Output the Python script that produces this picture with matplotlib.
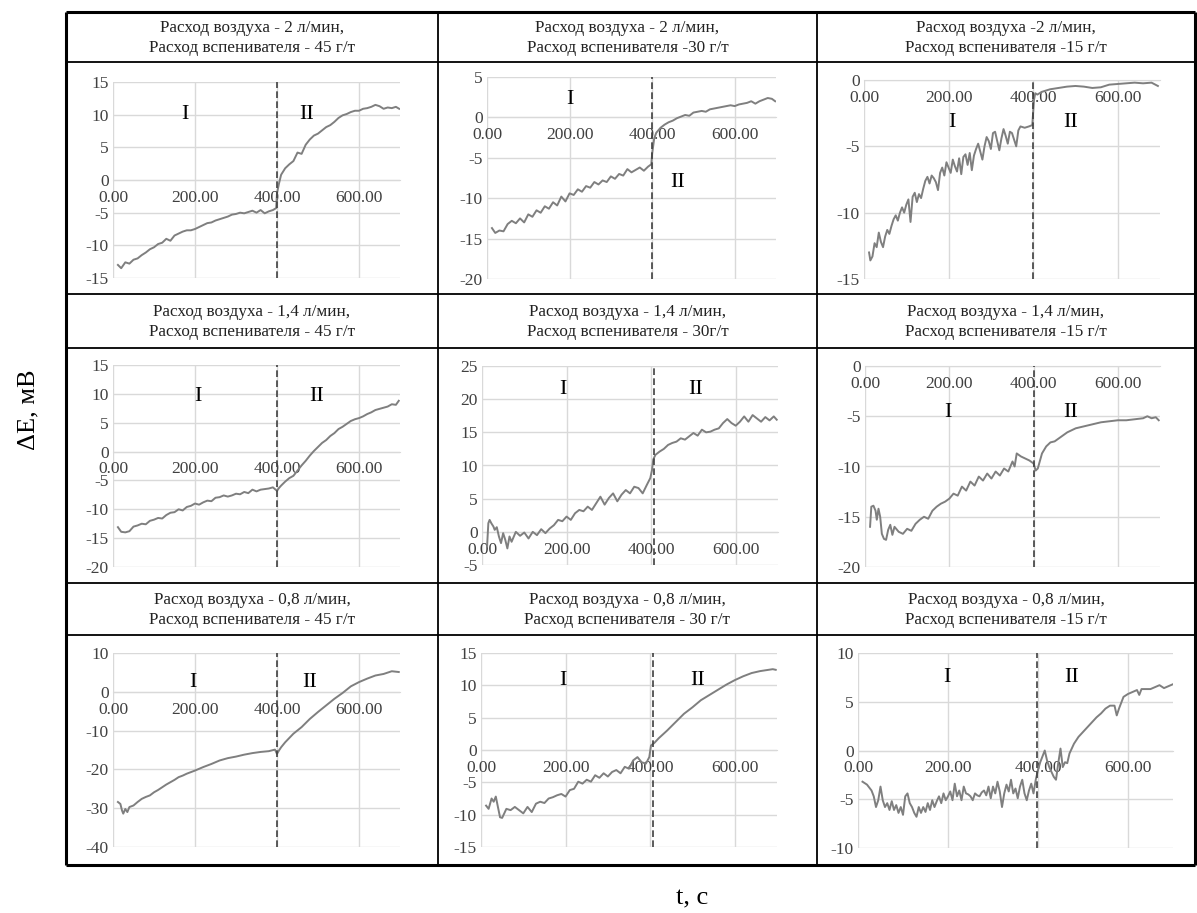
import matplotlib
matplotlib.use('Agg')
import matplotlib.pyplot as plt

plt.rcParams['font.family'] = ['Liberation Serif', 'DejaVu Serif']
plt.rcParams['axes.unicode_minus'] = False

# ---- data (t in s, dE in mV) ----
titles = [
    'Расход воздуха - 2 л/мин,\nРасход вспенивателя - 45 г/т',
    'Расход воздуха - 2 л/мин,\nРасход вспенивателя -30 г/т',
    'Расход воздуха -2 л/мин,\nРасход вспенивателя -15 г/т',
    'Расход воздуха - 1,4 л/мин,\nРасход вспенивателя - 45 г/т',
    'Расход воздуха - 1,4 л/мин,\nРасход вспенивателя - 30г/т',
    'Расход воздуха - 1,4 л/мин,\nРасход вспенивателя -15 г/т',
    'Расход воздуха - 0,8 л/мин,\nРасход вспенивателя - 45 г/т',
    'Расход воздуха - 0,8 л/мин,\nРасход вспенивателя - 30 г/т',
    'Расход воздуха - 0,8 л/мин,\nРасход вспенивателя -15 г/т',
]

t1 = [12, 20, 30, 40, 50, 60, 70, 80, 90, 100, 110, 120, 130, 140, 150, 160, 170, 180, 190, 200,
      210, 220, 230, 240, 250, 260, 270, 280, 290, 300, 310, 320, 330, 340, 350, 360, 370, 380, 390,
      398, 400, 405, 410, 420, 430, 440, 450, 460, 470, 480, 490, 500, 510, 520, 530, 540, 550, 560,
      570, 580, 590, 600, 610, 620, 630, 640, 650, 660, 670, 680, 690, 698]
v1 = [-13.0, -13.5, -12.6, -12.8, -12.2, -12.0, -11.5, -11.1, -10.6, -10.3, -9.8, -9.6, -9.0, -9.3,
      -8.5, -8.2, -7.9, -7.7, -7.7, -7.5, -7.2, -6.9, -6.6, -6.5, -6.2, -6.0, -5.8, -5.6, -5.3, -5.2,
      -5.0, -5.1, -4.9, -4.7, -5.0, -4.6, -5.1, -4.8, -4.6, -4.3, -2.0, -0.5, 0.8, 1.8, 2.4, 2.9, 4.2,
      4.0, 5.4, 6.2, 6.8, 7.1, 7.6, 8.1, 8.4, 8.9, 9.5, 9.9, 10.1, 10.4, 10.6, 10.6, 10.9, 11.0, 11.2,
      11.5, 11.3, 10.9, 11.1, 11.0, 11.2, 10.9]

t2 = [12, 20, 30, 40, 50, 60, 70, 80, 90, 100, 110, 120, 130, 140, 150, 160, 170, 180, 190, 200,
      210, 220, 230, 240, 250, 260, 270, 280, 290, 300, 310, 320, 330, 340, 350, 360, 370, 380, 390,
      398, 400, 405, 410, 420, 430, 440, 450, 460, 470, 480, 490, 500, 510, 520, 530, 540, 550, 560,
      570, 580, 590, 600, 610, 620, 630, 640, 650, 660, 670, 680, 690, 698]
v2 = [-13.7, -14.3, -14.0, -14.1, -13.2, -12.8, -13.1, -12.5, -13.0, -12.0, -12.3, -11.5, -11.8,
      -11.0, -11.3, -10.5, -10.9, -9.8, -10.4, -9.4, -9.6, -8.9, -9.2, -8.5, -8.7, -8.0, -8.3, -7.8,
      -8.0, -7.3, -7.6, -7.0, -7.2, -6.4, -6.8, -6.5, -6.2, -6.6, -6.1, -5.8, -4.5, -2.6, -1.9, -1.3,
      -0.9, -0.6, -0.4, -0.1, 0.1, 0.3, 0.2, 0.6, 0.7, 0.8, 0.7, 1.0, 1.1, 1.2, 1.3, 1.4, 1.5, 1.4,
      1.6, 1.7, 1.8, 2.0, 1.7, 2.0, 2.2, 2.4, 2.3, 2.0]

t3 = [12, 15, 20, 25, 30, 35, 40, 45, 50, 55, 60, 65, 70, 75, 80, 85, 90, 95, 100, 105, 110, 115,
      120, 125, 130, 135, 140, 145, 150, 155, 160, 165, 170, 175, 180, 185, 190, 195, 200, 205, 210,
      215, 220, 225, 230, 235, 240, 245, 250, 255, 260, 265, 270, 275, 280, 285, 290, 295, 300, 305,
      310, 315, 320, 325, 330, 335, 340, 345, 350, 355, 360, 365, 370, 380, 390, 398,
      402, 405, 410, 420, 430, 440, 460, 480, 500, 520, 540, 560, 580, 600, 620, 640, 660, 680, 695]
v3 = [-13.0, -13.6, -13.3, -12.3, -12.6, -11.5, -12.2, -12.6, -11.8, -11.3, -11.6, -11.0, -10.5,
      -10.2, -10.6, -10.0, -9.6, -10.0, -9.4, -9.0, -10.7, -8.8, -8.5, -9.2, -8.6, -8.9, -8.2, -7.6,
      -7.3, -7.8, -7.2, -7.4, -7.7, -8.3, -7.0, -6.6, -7.2, -6.2, -6.6, -7.0, -6.0, -6.5, -6.9, -5.9,
      -7.1, -5.8, -5.6, -6.4, -5.5, -6.8, -5.7, -5.2, -4.8, -5.4, -6.0, -5.0, -4.3, -4.6, -5.2, -4.0,
      -3.9, -4.6, -5.3, -4.4, -3.7, -4.2, -4.8, -3.9, -4.0, -4.5, -5.0, -3.8, -3.5, -3.6, -3.5, -3.4,
      -1.5, -1.0, -1.1, -0.9, -0.8, -0.7, -0.6, -0.5, -0.45, -0.5, -0.6, -0.55, -0.35, -0.3, -0.25,
      -0.2, -0.25, -0.2, -0.45]

t4 = [12, 20, 30, 40, 50, 60, 70, 80, 90, 100, 110, 120, 130, 140, 150, 160, 170, 180, 190, 200,
      210, 220, 230, 240, 250, 260, 270, 280, 290, 300, 310, 320, 330, 340, 350, 360, 370, 380, 390,
      400, 405, 410, 420, 430, 440, 450, 460, 470, 480, 490, 500, 510, 520, 530, 540, 550, 560, 570,
      580, 590, 600, 610, 620, 630, 640, 650, 660, 670, 680, 690, 697]
v4 = [-13.1, -13.9, -14.0, -13.8, -13.0, -12.8, -12.5, -12.6, -12.0, -11.8, -11.5, -11.6, -11.0,
      -10.6, -10.5, -10.0, -10.2, -9.6, -9.4, -9.0, -9.2, -8.8, -8.5, -8.6, -8.0, -7.9, -7.6, -7.8,
      -7.6, -7.3, -7.4, -7.0, -7.2, -6.6, -6.9, -6.6, -6.5, -6.4, -6.2, -6.8, -6.3, -5.9, -5.2, -4.6,
      -4.2, -3.3, -2.4, -1.6, -0.7, 0.1, 0.8, 1.5, 2.0, 2.7, 3.2, 3.9, 4.3, 4.8, 5.3, 5.6, 5.8, 6.1,
      6.5, 6.8, 7.2, 7.4, 7.6, 7.8, 8.2, 8.1, 8.8]

t5 = [12, 15, 18, 22, 27, 30, 35, 40, 45, 50, 55, 60, 65, 70, 80, 90, 100, 110, 120, 130, 140, 150,
      160, 170, 180, 190, 200, 210, 220, 230, 240, 250, 260, 270, 280, 290, 300, 310, 320, 330, 340,
      350, 360, 370, 380, 390, 398, 402, 405, 410, 420, 430, 440, 450, 460, 470, 480, 490, 500, 510,
      520, 530, 540, 550, 560, 570, 580, 590, 600, 610, 620, 630, 640, 650, 660, 670, 680, 690, 697]
v5 = [-2.2, 1.3, 1.8, 1.3, 0.8, 0.3, 0.7, -0.7, -1.7, -0.2, -1.2, -2.5, -0.7, -1.5, 0.0, -0.6, -0.1,
      -1.0, 0.0, -0.5, 0.4, -0.2, 0.5, 1.0, 1.8, 1.6, 2.3, 1.8, 2.8, 3.3, 3.1, 3.8, 3.3, 4.3, 5.3, 4.1,
      5.1, 5.8, 4.6, 5.6, 6.3, 5.8, 6.8, 6.6, 5.8, 7.1, 8.1, 9.3, 10.9, 11.6, 12.1, 12.5, 13.1, 13.4,
      13.6, 14.1, 13.9, 14.4, 14.9, 14.5, 15.4, 15.0, 15.1, 15.4, 15.6, 16.4, 17.0, 16.4, 16.0, 16.6,
      17.4, 16.6, 17.6, 17.1, 16.6, 17.3, 16.8, 17.4, 16.9]

t6 = [12, 15, 20, 25, 28, 32, 36, 40, 45, 50, 55, 60, 65, 70, 80, 90, 100, 110, 120, 130, 140, 150,
      160, 170, 180, 190, 200, 210, 220, 230, 240, 250, 260, 270, 280, 290, 300, 310, 320, 330, 340,
      350, 355, 360, 370, 380, 390, 400, 405, 410, 420, 430, 440, 450, 460, 470, 480, 490, 500, 520,
      540, 560, 580, 600, 620, 640, 660, 670, 680, 690, 697]
v6 = [-16.0, -14.0, -13.9, -14.4, -15.3, -14.2, -15.0, -16.7, -17.2, -17.3, -16.3, -15.8, -16.8,
      -16.0, -16.5, -16.7, -16.2, -16.4, -15.7, -15.3, -15.0, -15.2, -14.4, -14.0, -13.7, -13.5,
      -13.2, -12.7, -12.9, -12.0, -12.4, -11.5, -11.9, -11.0, -11.4, -10.7, -11.2, -10.5, -10.9,
      -10.2, -10.5, -9.5, -10.0, -8.7, -9.0, -9.2, -9.4, -9.7, -10.4, -10.2, -8.7, -8.0, -7.6, -7.5,
      -7.2, -6.9, -6.6, -6.4, -6.2, -6.0, -5.8, -5.6, -5.5, -5.4, -5.4, -5.3, -5.2, -5.0, -5.2, -5.1,
      -5.4]

t7 = [12, 18, 22, 25, 30, 35, 40, 50, 60, 70, 80, 90, 100, 110, 120, 130, 140, 150, 160, 170, 180,
      190, 200, 220, 240, 260, 280, 300, 320, 340, 360, 380, 395, 400, 405, 410, 420, 440, 460, 480,
      500, 520, 540, 560, 580, 600, 620, 640, 660, 680, 697]
v7 = [-28.4, -28.9, -30.6, -31.4, -30.2, -31.0, -29.7, -29.3, -28.4, -27.6, -27.1, -26.7, -25.9,
      -25.3, -24.6, -23.9, -23.3, -22.7, -22.0, -21.6, -21.1, -20.7, -20.3, -19.4, -18.6, -17.7,
      -17.1, -16.7, -16.2, -15.8, -15.5, -15.3, -14.9, -16.0, -15.1, -14.3, -13.0, -10.8, -9.1, -7.0,
      -5.2, -3.5, -1.8, -0.3, 1.4, 2.5, 3.4, 4.2, 4.6, 5.3, 5.1]

t8 = [12, 18, 25, 30, 35, 40, 45, 50, 55, 60, 70, 80, 90, 100, 110, 120, 130, 140, 150, 160, 170,
      180, 190, 200, 210, 220, 230, 240, 250, 260, 270, 280, 290, 300, 310, 320, 330, 340, 350, 360,
      370, 380, 390, 398, 402, 410, 420, 440, 460, 480, 500, 520, 540, 560, 580, 600, 620, 640, 660,
      680, 690, 697]
v8 = [-8.6, -9.1, -7.5, -8.0, -7.2, -8.8, -10.4, -10.5, -9.8, -9.1, -9.3, -8.8, -9.3, -9.8, -8.8,
      -9.6, -8.3, -8.0, -8.2, -7.5, -7.3, -7.0, -6.8, -7.2, -6.2, -6.0, -4.9, -5.2, -4.6, -4.9, -3.9,
      -4.3, -3.6, -4.1, -3.4, -3.1, -3.6, -2.6, -2.9, -1.6, -1.1, -1.9, -2.1, -1.1, 0.7, 1.1, 1.8,
      3.0, 4.3, 5.6, 6.6, 7.7, 8.5, 9.3, 10.1, 10.8, 11.4, 11.9, 12.2, 12.4, 12.5, 12.4]

t9 = [10, 20, 30, 35, 40, 45, 50, 55, 60, 65, 70, 75, 80, 85, 90, 95, 100, 105, 110, 115, 120, 125,
      130, 135, 140, 145, 150, 155, 160, 165, 170, 175, 180, 185, 190, 195, 200, 205, 210, 215, 220,
      225, 230, 235, 240, 245, 250, 255, 260, 265, 270, 275, 280, 285, 290, 295, 300, 305, 310, 315,
      320, 325, 330, 335, 340, 345, 350, 355, 360, 365, 370, 375, 380, 385, 390, 395, 400, 405, 410,
      415, 420, 425, 430, 435, 440, 445, 450, 455, 460, 465, 470, 480, 490, 500, 510, 520, 530, 540,
      550, 560, 570, 575, 580, 590, 600, 610, 620, 625, 630, 640, 650, 660, 670, 680, 690, 700]
v9 = [-3.2, -3.5, -4.1, -4.7, -5.8, -5.1, -3.7, -5.1, -5.8, -5.4, -6.1, -5.2, -6.1, -5.6, -6.4, -5.8,
      -6.6, -4.7, -4.4, -5.4, -5.8, -6.4, -6.8, -5.8, -6.4, -5.8, -6.3, -5.4, -6.1, -5.1, -5.8, -5.2,
      -4.7, -5.4, -4.4, -5.1, -4.7, -4.2, -5.1, -3.4, -4.7, -4.1, -5.1, -3.7, -4.4, -4.5, -4.7, -5.1,
      -4.4, -4.6, -4.7, -4.3, -4.1, -4.6, -3.7, -4.9, -3.7, -4.4, -3.2, -4.2, -5.8, -4.4, -3.5, -4.2,
      -3.0, -4.4, -3.9, -4.9, -3.7, -3.0, -4.4, -5.1, -4.1, -3.4, -4.4, -3.0, -2.0, -1.2, -0.6, 0.0,
      -1.0, -1.7, -2.2, -2.7, -3.0, -1.3, 0.2, -1.7, -1.2, -1.3, -0.3, 0.7, 1.4, 1.9, 2.4, 2.9, 3.4,
      3.8, 4.3, 4.6, 4.6, 3.6, 4.3, 5.5, 5.8, 6.0, 6.2, 5.7, 6.3, 6.3, 6.3, 6.5, 6.7, 6.4, 6.6, 6.8]

series_t = [t1, t2, t3, t4, t5, t6, t7, t8, t9]
series_v = [v1, v2, v3, v4, v5, v6, v7, v8, v9]
y_limits = [(-15, 15), (-20, 5), (-15, 0), (-20, 15), (-5, 25), (-20, 0), (-40, 10), (-15, 15), (-10, 10)]
y_steps = [5, 5, 5, 5, 5, 5, 10, 5, 5]
x_ticks = [0, 200, 400, 600]
x_ticklabels = ['0.00', '200.00', '400.00', '600.00']
split_t = [400, 400, 400, 400, 407, 400, 400, 407, 397]

# ---- layout (pixels in the 1197x913 picture) ----
W, H = 1197, 913
plot_px = [(113, 400, 82, 278), (487, 776, 77, 279), (864, 1160, 80, 279),
           (113, 400, 365, 567), (482, 778, 366, 565), (865, 1160, 366, 567),
           (113, 400, 653, 847), (481, 777, 653, 847), (858, 1173, 653, 848)]
roman_pos = [((175, 10), (473, 10)), ((200, 2.2), (461, -8)), ((208, -3.2), (488, -3.2)),
             ((207, 9.5), (497, 9.5)), ((192, 21.4), (504, 21.4)), ((197, -4.6), (487, -4.6)),
             ((195, 2.3), (480, 2.3)), ((194, 10.8), (513, 10.8)), ((198, 7.5), (475, 7.5))]
col_x = [66, 438, 817, 1195]
title_rows = [(12, 62), (294, 348), (583, 635)]
hlines = [12, 62, 294, 348, 583, 635, 865]

fig = plt.figure(figsize=(W / 100, H / 100), dpi=100)
bg = fig.add_axes([0, 0, 1, 1])
bg.set_xlim(0, W)
bg.set_ylim(H, 0)
bg.axis('off')

# table borders
for y in hlines:
    lw = 2.2 if y in (12, 865) else 1.3
    bg.plot([col_x[0], col_x[-1]], [y, y], color='black', lw=lw, solid_capstyle='butt')
for x in col_x:
    lw = 2.2 if x in (66, 1195) else 1.3
    bg.plot([x, x], [12, 865], color='black', lw=lw, solid_capstyle='butt')

grid_c = '#d9d9d9'
for i in range(9):
    r, c = divmod(i, 3)
    ty0, ty1 = title_rows[r]
    bg.text((col_x[c] + col_x[c + 1]) / 2, (ty0 + ty1) / 2 + 1, titles[i],
            ha='center', va='center', fontsize=12.3, linespacing=1.3, color='#222222')

    l, rr, t, b = plot_px[i]
    ax = fig.add_axes([l / W, 1 - b / H, (rr - l) / W, (b - t) / H])
    ax.patch.set_alpha(0)
    ymin, ymax = y_limits[i]
    ax.set_xlim(0, 700)
    ax.set_ylim(ymin, ymax)
    ax.set_yticks(list(range(ymin, ymax + 1, y_steps[i])))
    ax.set_xticks(x_ticks)
    ax.set_xticklabels(x_ticklabels)
    ax.grid(True, color=grid_c, lw=1.0)
    ax.set_axisbelow(True)
    for s in ['top', 'right', 'left']:
        ax.spines[s].set_visible(False)
    ax.spines['bottom'].set_position(('data', 0))
    ax.spines['bottom'].set_color(grid_c)
    ax.tick_params(axis='both', length=0, labelsize=12.5, labelcolor='#404040')
    ax.tick_params(axis='x', pad=7)
    ax.tick_params(axis='y', pad=3)

    ax.plot(series_t[i], series_v[i], color='#7f7f7f', lw=1.4, zorder=3)
    ax.axvline(split_t[i], color='#404040', lw=1.2, ls=(0, (4, 2)), zorder=4)
    (x1, y1), (x2, y2) = roman_pos[i]
    ax.text(x1, y1, 'I', ha='center', va='center', fontsize=16)
    ax.text(x2, y2, 'II', ha='center', va='center', fontsize=16)

bg.text(28, 410, 'ΔE, мВ', rotation=90, ha='center', va='center', fontsize=19)
bg.text(692, 898, 't, с', ha='center', va='center', fontsize=19)

fig.savefig('out.png', dpi=100)
